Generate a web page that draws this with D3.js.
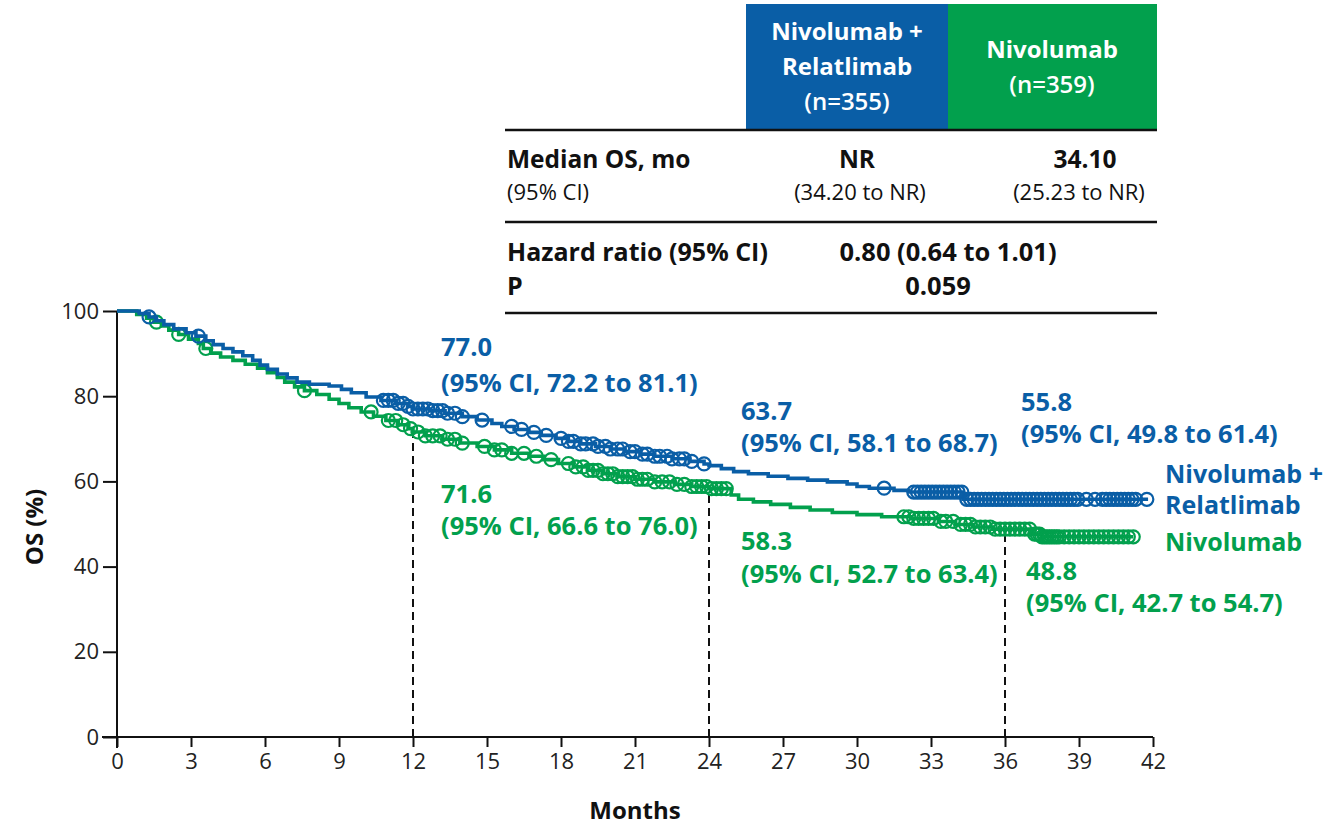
<!DOCTYPE html>
<html>
<head>
<meta charset="utf-8">
<script src="https://cdn.jsdelivr.net/npm/d3@7"></script>
<style>
  html, body { margin: 0; padding: 0; background: #fff; }
  svg { display: block; font-family: "Open Sans", sans-serif; }
</style>
</head>
<body>
<svg id="chart" width="1324" height="825"></svg>
<script>
// Kaplan-Meier overall survival, step points [month, OS %]
const comboSteps = [
  [0,100],[0.9,99.4],[1.3,98.6],[1.6,97.7],[1.9,96.8],[2.3,95.8],[2.8,94.9],[3.2,94.1],
  [3.6,93.0],[3.9,92.1],[4.3,91.2],[4.7,90.4],[5.1,89.5],[5.5,88.4],[5.8,87.3],[6.1,86.3],
  [6.5,85.2],[6.9,84.3],[7.3,83.3],[7.8,82.8],[8.6,82.4],[9.1,81.6],[9.5,80.8],[10.1,79.8],
  [10.7,79.0],[11.3,78.3],[11.8,77.6],[12.0,77.0],[12.7,76.6],[13.3,76.0],[14.0,75.2],
  [14.6,74.4],[15.2,73.6],[15.6,72.9],[16.1,72.2],[16.7,71.5],[17.2,70.8],[17.8,70.1],
  [18.3,69.4],[18.8,68.8],[19.4,68.2],[20.0,67.6],[20.6,67.0],[21.2,66.4],[21.8,65.9],
  [22.5,65.3],[23.2,64.7],[23.8,64.1],[24.0,63.7],[24.5,63.0],[25.0,62.3],[25.6,61.8],
  [26.4,61.2],[27.2,60.7],[28.0,60.3],[28.8,59.9],[29.6,59.4],[30.0,58.8],[30.5,58.4],
  [31.5,57.9],[32.1,57.5],[34.3,55.8],[41.8,55.8]
];
const monoSteps = [
  [0,100],[0.8,99.2],[1.2,98.3],[1.5,97.4],[1.8,96.5],[2.1,95.5],[2.5,94.5],[2.9,93.4],
  [3.3,92.4],[3.5,91.2],[3.8,90.1],[4.2,89.2],[4.7,88.4],[5.2,87.5],[5.7,86.6],[6.1,85.5],
  [6.5,84.4],[6.8,83.3],[7.2,82.2],[7.6,81.3],[8.1,80.4],[8.6,79.3],[9.0,78.3],[9.4,77.3],
  [9.9,76.3],[10.4,75.3],[10.9,74.3],[11.4,73.3],[11.8,72.4],[12.0,71.6],[12.5,70.7],
  [13.2,69.9],[13.9,69.0],[14.6,68.2],[15.3,67.4],[16.0,66.6],[16.7,65.9],[17.3,65.1],
  [17.9,64.2],[18.5,63.4],[19.1,62.6],[19.7,61.8],[20.3,61.1],[21.0,60.5],[21.8,59.9],
  [22.6,59.3],[23.3,58.8],[24.0,58.3],[24.9,56.8],[25.2,55.8],[25.8,55.2],[26.5,54.6],
  [27.3,53.9],[28.1,53.3],[29.0,52.7],[30.0,52.2],[31.0,51.7],[32.2,51.3],[33.3,50.6],
  [34.0,49.9],[34.7,49.3],[35.5,48.8],[37.1,47.6],[37.5,47.0],[41.2,47.0]
];

// Censoring times (months)
const comboCensor = [
  1.3,3.3,10.8,11.0,11.2,11.4,11.6,11.8,12.0,12.2,12.4,12.6,12.8,13.0,13.2,13.4,13.7,14.0,
  14.8,16.0,16.4,16.9,17.4,18.0,18.3,18.5,18.8,19.0,19.3,19.5,19.8,20.0,20.3,20.5,20.8,21.0,
  21.3,21.5,21.8,22.0,22.3,22.5,22.8,23.0,23.3,23.8,31.1,
  32.3,32.45,32.6,32.75,32.9,33.05,33.2,33.35,33.5,33.65,33.8,33.95,34.1,34.25,
  34.45,34.6,34.75,34.9,35.05,35.2,35.35,35.5,35.65,35.8,35.95,36.1,36.25,36.4,36.55,36.7,
  36.85,37.0,37.15,37.3,37.45,37.6,37.75,37.9,38.05,38.2,38.35,38.5,38.65,38.8,38.95,
  39.3,39.65,39.95,40.1,40.25,40.4,40.55,40.7,40.85,41.0,41.15,41.3,41.75
];
const monoCensor = [
  1.6,2.5,3.6,7.6,10.3,11.0,11.3,11.6,11.9,12.2,12.5,12.8,13.1,13.4,13.7,14.0,14.9,15.3,
  15.6,16.0,16.5,17.0,17.6,18.3,18.6,18.9,19.1,19.3,19.5,19.7,19.9,20.1,20.3,20.5,20.7,20.9,
  21.1,21.3,21.5,21.8,22.1,22.4,22.7,23.0,23.3,23.5,23.7,23.9,24.1,24.3,24.5,24.7,
  31.9,32.1,32.3,32.5,32.7,32.9,33.1,33.4,33.6,33.9,34.2,34.4,34.6,34.8,35.0,35.2,35.4,35.6,
  35.8,36.0,36.2,36.4,36.6,36.8,37.0,37.2,37.3,37.4,37.5,37.6,37.7,37.8,37.9,38.0,38.1,
  38.2,38.4,38.6,38.8,39.0,39.2,39.4,39.6,39.8,40.0,40.2,40.4,40.6,40.8,41.0,41.2
];

// Landmark estimates at 12, 24 and 36 months
const landmarkMonths = [12, 24, 36];
const comboLandmarks = [
  { v: "77.0", ci: "(95% CI, 72.2 to 81.1)" },
  { v: "63.7", ci: "(95% CI, 58.1 to 68.7)" },
  { v: "55.8", ci: "(95% CI, 49.8 to 61.4)" }
];
const monoLandmarks = [
  { v: "71.6", ci: "(95% CI, 66.6 to 76.0)" },
  { v: "58.3", ci: "(95% CI, 52.7 to 63.4)" },
  { v: "48.8", ci: "(95% CI, 42.7 to 54.7)" }
];

const xTicks = [0,3,6,9,12,15,18,21,24,27,30,33,36,39,42];
const yTicks = [0,20,40,60,80,100];

// Summary table contents
const headerCombo = ["Nivolumab +", "Relatlimab", "(n=355)"];
const headerMono = ["Nivolumab", "(n=359)"];
const medianRow = { label: "Median OS, mo", sub: "(95% CI)", combo: "NR", comboCi: "(34.20 to NR)", mono: "34.10", monoCi: "(25.23 to NR)" };
const hrRow = { label: "Hazard ratio (95% CI)", value: "0.80 (0.64 to 1.01)" };
const pRow = { label: "P", value: "0.059" };

const BLUE = "#0a5ea6";
const GREEN = "#02a04d";

const svg = d3.select("#chart");
const x = d3.scaleLinear().domain([0, 42]).range([117, 1153]);
const y = d3.scaleLinear().domain([0, 100]).range([737, 311]);

function survAt(steps, t) {
  let v = steps[0][1];
  for (const s of steps) { if (s[0] <= t) v = s[1]; else break; }
  return v;
}

// Dashed landmark guides up to the lower curve
svg.append("g").selectAll("line").data(landmarkMonths).join("line")
  .attr("x1", d => x(d)).attr("x2", d => x(d))
  .attr("y1", y(0)).attr("y2", d => y(survAt(monoSteps, d)))
  .attr("stroke", "#111").attr("stroke-width", 2).attr("stroke-dasharray", "8,5");

// Axes
const xAxis = svg.append("g").attr("transform", `translate(0,${y(0)})`)
  .call(d3.axisBottom(x).tickValues(xTicks).tickSize(10).tickPadding(6).tickSizeOuter(0));
xAxis.select(".domain").remove();
xAxis.append("line").attr("x1", 102).attr("x2", x(42)).attr("stroke", "#111").attr("stroke-width", 2);
xAxis.selectAll(".tick line").attr("stroke", "#111").attr("stroke-width", 2);
xAxis.selectAll(".tick text").attr("fill", "#222").style("font-size", "22px").style("font-family", "'Open Sans', sans-serif");

const yAxis = svg.append("g").attr("transform", `translate(${x(0)},0)`)
  .call(d3.axisLeft(y).tickValues(yTicks).tickSize(14).tickPadding(4).tickSizeOuter(0));
yAxis.select(".domain").remove();
yAxis.append("line").attr("y1", y(100)).attr("y2", 748).attr("stroke", "#111").attr("stroke-width", 2);
yAxis.selectAll(".tick line").attr("stroke", "#111").attr("stroke-width", 2);
yAxis.selectAll(".tick text").attr("fill", "#222").style("font-size", "22px").style("font-family", "'Open Sans', sans-serif");

svg.append("text").attr("x", x(21)).attr("y", 819).attr("text-anchor", "middle")
  .style("font-size", "24px").style("font-weight", 700).attr("fill", "#111").text("Months");
svg.append("text").attr("transform", `translate(43,527) rotate(-90)`).attr("text-anchor", "middle")
  .style("font-size", "24px").style("font-weight", 700).attr("fill", "#111").text("OS (%)");

// Survival curves with censor marks
const line = d3.line().x(d => x(d[0])).y(d => y(d[1])).curve(d3.curveStepAfter);
function drawArm(steps, censor, color) {
  svg.append("path").datum(steps).attr("d", line)
    .attr("fill", "none").attr("stroke", color).attr("stroke-width", 3.6);
  svg.append("g").selectAll("circle").data(censor).join("circle")
    .attr("cx", d => x(d)).attr("cy", d => y(survAt(steps, d)))
    .attr("r", 6.5).attr("fill", "none").attr("stroke", color).attr("stroke-width", 2.2);
}
drawArm(monoSteps, monoCensor, GREEN);
drawArm(comboSteps, comboCensor, BLUE);

// Landmark labels
const comboLabelPos = [[441, 356, 392], [741, 420, 452], [1021, 411, 443]];
const monoLabelPos = [[441, 503, 535], [741, 550, 583], [1026, 580, 612]];
function drawLandmarks(items, pos, color) {
  items.forEach((d, i) => {
    const [lx, y1, y2] = pos[i];
    svg.append("text").attr("x", lx).attr("y", y1).attr("fill", color)
      .style("font-size", "25.5px").style("font-weight", 700).text(d.v);
    svg.append("text").attr("x", lx).attr("y", y2).attr("fill", color)
      .style("font-size", "25.5px").style("font-weight", 700).text(d.ci);
  });
}
drawLandmarks(comboLandmarks, comboLabelPos, BLUE);
drawLandmarks(monoLandmarks, monoLabelPos, GREEN);

// Arm labels at the right end of the curves
svg.append("text").attr("x", 1165).attr("y", 483).attr("fill", BLUE)
  .style("font-size", "25px").style("font-weight", 700).text("Nivolumab +");
svg.append("text").attr("x", 1165).attr("y", 514).attr("fill", BLUE)
  .style("font-size", "25px").style("font-weight", 700).text("Relatlimab");
svg.append("text").attr("x", 1165).attr("y", 551).attr("fill", GREEN)
  .style("font-size", "25px").style("font-weight", 700).text("Nivolumab");

// Summary table
const tbl = svg.append("g");
tbl.append("rect").attr("x", 746).attr("y", 4).attr("width", 202).attr("height", 126).attr("fill", BLUE);
tbl.append("rect").attr("x", 948).attr("y", 4).attr("width", 209).attr("height", 126).attr("fill", GREEN);
headerCombo.forEach((t, i) => {
  tbl.append("text").attr("x", 847).attr("y", [40, 75, 110][i]).attr("text-anchor", "middle")
    .attr("fill", "#fff").style("font-size", "24px").style("font-weight", i === 2 ? 600 : 700).text(t);
});
headerMono.forEach((t, i) => {
  tbl.append("text").attr("x", 1052).attr("y", [58, 93][i]).attr("text-anchor", "middle")
    .attr("fill", "#fff").style("font-size", "24px").style("font-weight", i === 1 ? 600 : 700).text(t);
});
[130, 222, 313].forEach(ry => {
  tbl.append("line").attr("x1", 505).attr("x2", 1157).attr("y1", ry).attr("y2", ry)
    .attr("stroke", "#111").attr("stroke-width", 2.5);
});
function cell(tx, ty, text, anchor, size, weight) {
  tbl.append("text").attr("x", tx).attr("y", ty).attr("text-anchor", anchor)
    .attr("fill", "#111").style("font-size", size + "px").style("font-weight", weight).text(text);
}
cell(507, 168, medianRow.label, "start", 24.5, 700);
cell(507, 200, medianRow.sub, "start", 22, 400);
cell(857, 168, medianRow.combo, "middle", 24.5, 700);
cell(860, 200, medianRow.comboCi, "middle", 22, 400);
cell(1085, 168, medianRow.mono, "middle", 24.5, 700);
cell(1079, 200, medianRow.monoCi, "middle", 22, 400);
cell(507, 261, hrRow.label, "start", 25, 700);
cell(948, 261, hrRow.value, "middle", 25.5, 700);
cell(507, 295, pRow.label, "start", 25, 700);
cell(938, 295, pRow.value, "middle", 25.5, 700);
</script>
</body>
</html>
